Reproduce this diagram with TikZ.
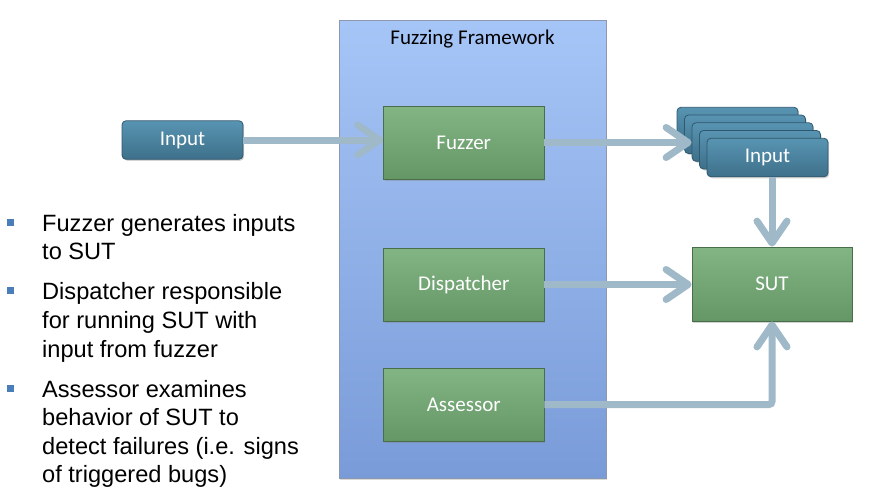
\documentclass[tikz,border=0pt]{standalone}
\usepackage{fontspec}
\setmainfont{Liberation Sans}
\newfontfamily\boxfont{Carlito}
\usetikzlibrary{arrows.meta,shadows}
\definecolor{arrowc}{RGB}{160,185,200}
\definecolor{fwtop}{RGB}{166,197,247}
\definecolor{fwbot}{RGB}{121,155,216}
\definecolor{fwline}{RGB}{140,152,175}
\definecolor{grtop}{RGB}{130,180,132}
\definecolor{grbot}{RGB}{100,150,102}
\definecolor{grline}{RGB}{72,110,74}
\definecolor{bltop}{RGB}{88,148,178}
\definecolor{blbot}{RGB}{62,112,138}
\definecolor{blline}{RGB}{48,88,110}
\definecolor{bulletc}{RGB}{74,126,187}
\tikzset{
  greenbox/.style={draw=grline, line width=0.8pt, top color=grtop, bottom color=grbot,
    minimum width=160.5pt, minimum height=73pt, inner sep=0pt,
    font=\boxfont\fontsize{21}{24}\selectfont, text=white,
    drop shadow={shadow xshift=1.2pt, shadow yshift=-1.5pt, opacity=0.35}},
  bluebox/.style={draw=blline, line width=0.8pt, top color=bltop, bottom color=blbot,
    rounded corners=4pt, minimum width=121pt, minimum height=38.5pt, inner sep=0pt,
    font=\boxfont\fontsize{21}{24}\selectfont, text=white,
    drop shadow={shadow xshift=1.2pt, shadow yshift=-1.5pt, opacity=0.35}},
  frame/.style={draw=fwline, line width=0.8pt, top color=fwtop, bottom color=fwbot,
    minimum width=267pt, minimum height=458pt, inner sep=0pt,
    drop shadow={shadow xshift=1.2pt, shadow yshift=-1.5pt, opacity=0.3}},
  flow/.style={draw=arrowc, line width=7pt,
    -{Straight Barb[length=22pt, width=30pt, round]}},
  bullettext/.style={anchor=base west, inner sep=0pt, font=\fontsize{23.6}{28}\selectfont},
  bulletsq/.style={fill=bulletc, minimum size=6.5pt, inner sep=0pt},
}
\begin{document}
\begin{tikzpicture}[x=1pt,y=-1pt]
\useasboundingbox (0,0) rectangle (877,501);
% framework
\node[frame] (fw) at (472.5,249) {};
\node[font=\boxfont\fontsize{21}{24}\selectfont, inner sep=0pt, anchor=base] (fwlabel) at (472.5,44.5) {Fuzzing Framework};
% boxes
\node[greenbox] (fuzzer) at (463.75,142.5) {Fuzzer};
\node[greenbox] (disp) at (463.75,284.5) {Dispatcher};
\node[greenbox] (assess) at (463.75,404.5) {Assessor};
\node[greenbox, minimum width=160pt, minimum height=74pt] (sut) at (772,284) {SUT};
\node[bluebox] (inL) at (182.5,140) {Input};
% stack of inputs
\node[bluebox] (s1) at (737.5,126.5) {};
\node[bluebox] (s2) at (745,134.25) {};
\node[bluebox] (s3) at (752.5,142) {};
\node[bluebox] (s4) at (760,149.75) {};
\node[bluebox] (s5) at (767.5,157.5) {Input};
% connectors
\draw[flow] (inL.east) -- (inL.east -| fuzzer.west);
\draw[flow] (fuzzer.east) -- (fuzzer.east -| s3.west);
\draw[flow] (sut.north |- s5.south) -- (sut.north);
\draw[flow] (disp.east) -- (disp.east -| sut.west);
\draw[flow, rounded corners=3pt] (assess.east) -- (assess.east -| sut.south) -- (sut.south);
% bullets
\node[bulletsq] (q1) at (10.5,222.5) {};
\node[bullettext] (b1a) at (42,231) {Fuzzer generates inputs};
\node[bullettext] (b1b) at (42,259.5) {to SUT};
\node[bulletsq] (q2) at (10.5,290.5) {};
\node[bullettext] (b2a) at (42,299) {Dispatcher responsible};
\node[bullettext] (b2b) at (42,328) {for running SUT with};
\node[bullettext] (b2c) at (42,357) {input from fuzzer};
\node[bulletsq] (q3) at (10.5,388.5) {};
\node[bullettext] (b3a) at (42,397) {Assessor examines};
\node[bullettext] (b3b) at (42,425.5) {behavior of SUT to};
\node[bullettext] (b3c) at (42,454) {detect failures (i.e. signs};
\node[bullettext] (b3d) at (42,482.5) {of triggered bugs)};
\end{tikzpicture}
\end{document}
